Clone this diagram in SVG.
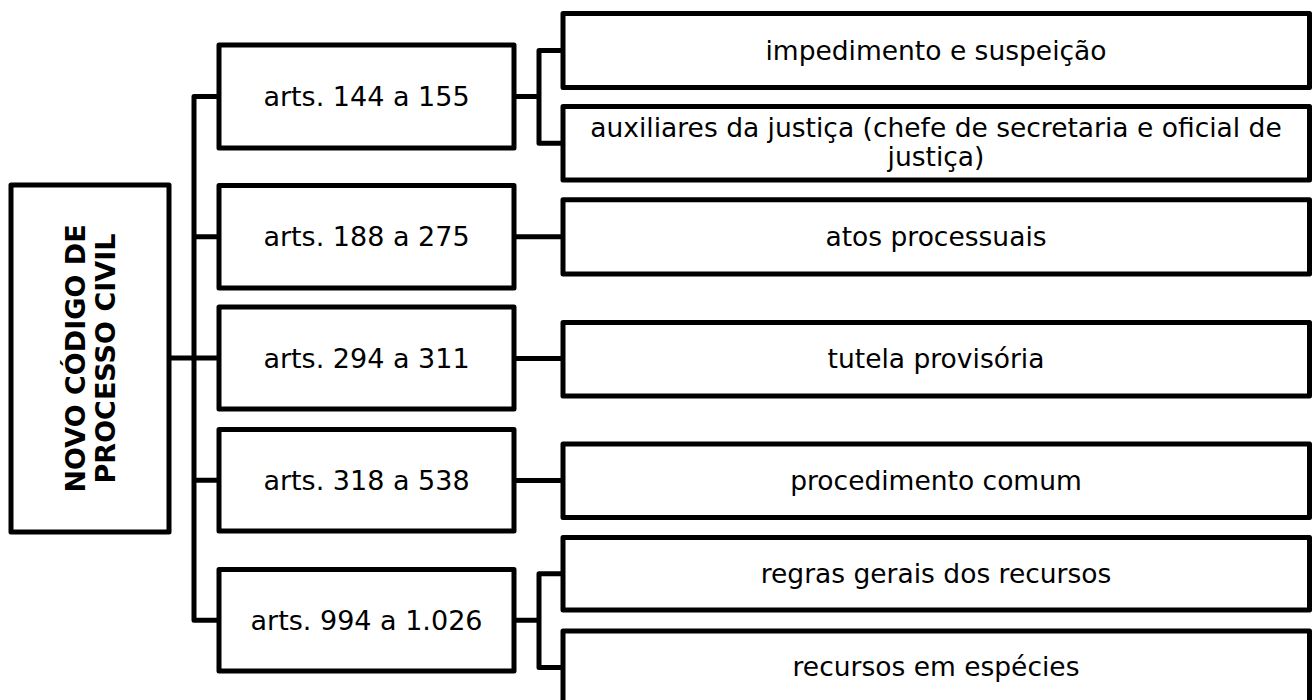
<svg xmlns="http://www.w3.org/2000/svg" width="1312" height="700" viewBox="0 0 1312 700">
<style>
.box{fill:#fff;stroke:#000;stroke-width:5;stroke-linejoin:round}
.con{fill:none;stroke:#000;stroke-width:5;stroke-linejoin:round}
.t{font-family:"DejaVu Sans",Verdana,sans-serif;font-size:27px;fill:#000;text-anchor:middle}
.l{font-family:"DejaVu Sans",Verdana,sans-serif;font-size:26.5px;fill:#000;text-anchor:middle}
.r{font-family:"DejaVu Sans",Verdana,sans-serif;font-size:27px;font-weight:bold;fill:#000;text-anchor:middle}
</style>
<rect width="1312" height="700" fill="#fff"/>
<g id="connectors">
<path class="con" d="M169,358 H194"/>
<path class="con" d="M219,96.5 H194 V620.25 H219"/>
<path class="con" d="M194,236.75 H219 M194,358 H219 M194,480.25 H219"/>
<path class="con" d="M514,96.5 H539 M563,50.5 H539 V143.25 H563"/>
<path class="con" d="M514,236.75 H563 M514,358.5 H563 M514,480.5 H563"/>
<path class="con" d="M514,620.25 H539 M563,573.75 H539 V667.5 H563"/>
</g>
<g id="root">
<rect class="box" x="11" y="185" width="158" height="347"/>
<text class="r" transform="translate(85,358.5) rotate(-90)">NOVO CÓDIGO DE</text>
<text class="r" transform="translate(115,358.5) rotate(-90)">PROCESSO CIVIL</text>
</g>
<g id="arts144">
<rect class="box" x="219" y="45" width="295" height="103"/>
<text class="t" x="366.5" y="106">arts. 144 a 155</text>
</g>
<g id="arts188">
<rect class="box" x="219" y="185.5" width="295" height="102.5"/>
<text class="t" x="366.5" y="246.3">arts. 188 a 275</text>
</g>
<g id="arts294">
<rect class="box" x="219" y="307" width="295" height="102"/>
<text class="t" x="366.5" y="367.5">arts. 294 a 311</text>
</g>
<g id="arts318">
<rect class="box" x="219" y="429.5" width="295" height="101.5"/>
<text class="t" x="366.5" y="489.8">arts. 318 a 538</text>
</g>
<g id="arts994">
<rect class="box" x="219" y="569.5" width="295" height="101.5"/>
<text class="t" x="366.5" y="629.5">arts. 994 a 1.026</text>
</g>
<g id="impedimento">
<rect class="box" x="563" y="13.5" width="746.5" height="74"/>
<text class="l" x="936" y="60">impedimento e suspeição</text>
</g>
<g id="auxiliares">
<rect class="box" x="563" y="106.5" width="746.5" height="73.5"/>
<text class="l" x="936" y="137">auxiliares da justiça (chefe de secretaria e oficial de</text>
<text class="l" x="936" y="166">justiça)</text>
</g>
<g id="atos">
<rect class="box" x="563" y="199.7" width="746.5" height="74.3"/>
<text class="l" x="936" y="246">atos processuais</text>
</g>
<g id="tutela">
<rect class="box" x="563" y="322.5" width="746.5" height="73.5"/>
<text class="l" x="936" y="368">tutela provisória</text>
</g>
<g id="procedimento">
<rect class="box" x="563" y="444" width="746.5" height="73.5"/>
<text class="l" x="936" y="490">procedimento comum</text>
</g>
<g id="regras">
<rect class="box" x="563" y="537.5" width="746.5" height="72.5"/>
<text class="l" x="936" y="582.5">regras gerais dos recursos</text>
</g>
<g id="especies">
<rect class="box" x="563" y="631" width="746.5" height="74"/>
<text class="l" x="936" y="676">recursos em espécies</text>
</g>
</svg>
